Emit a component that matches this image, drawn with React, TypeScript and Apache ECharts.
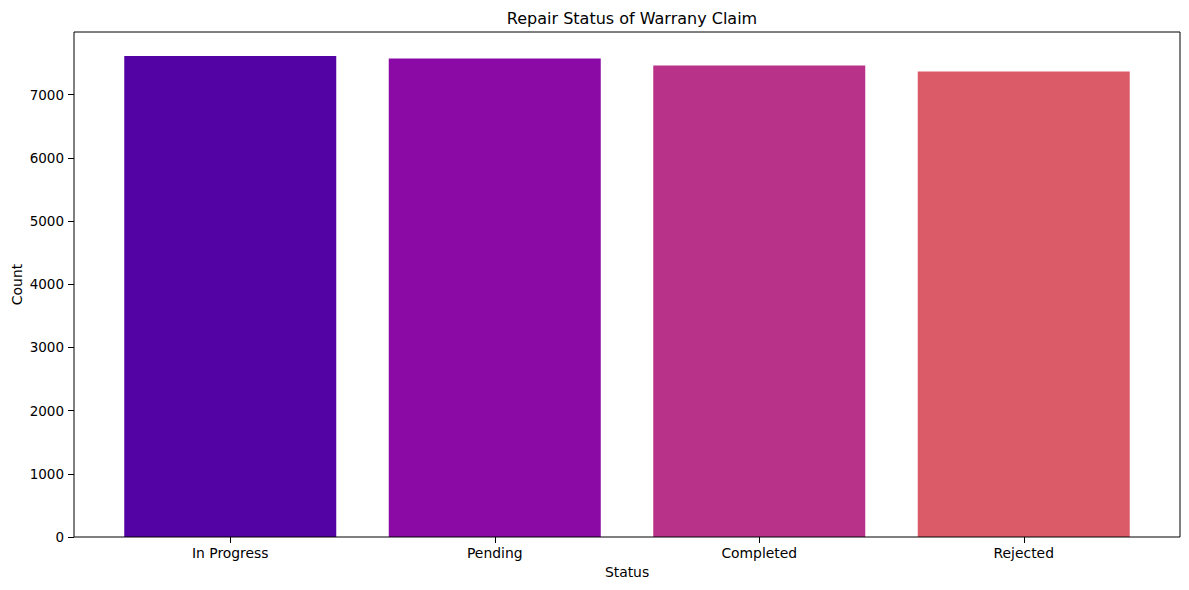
import React, { useEffect, useRef } from 'react';
import * as echarts from 'echarts';

const statuses = ['In Progress', 'Pending', 'Completed', 'Rejected'];
const counts = [7612, 7575, 7464, 7369];
const barColors = ['#5302a3', '#8b0aa5', '#b83289', '#db5c68'];

const FONT = 'DejaVu Sans';

const App: React.FC = () => {
  const chartRef = useRef<HTMLDivElement>(null);

  useEffect(() => {
    if (!chartRef.current) return;
    const chart = echarts.init(chartRef.current, undefined, { renderer: 'svg' });

    // plot frame, bars centred like matplotlib (0.09 unit pad each side)
    const frameLeft = 74;
    const frameRight = 1180;
    const frameTop = 32;
    const frameBottom = 537;
    const pad = 24;

    const option = {
      animation: false,
      textStyle: { fontFamily: FONT },
      title: {
        text: 'Repair Status of Warrany Claim',
        left: (frameLeft + frameRight) / 2,
        textAlign: 'center',
        top: 5,
        textStyle: { fontFamily: FONT, fontSize: 16, fontWeight: 'normal', color: '#000' },
      },
      grid: {
        left: frameLeft + pad,
        right: 1189 - frameRight + pad,
        top: frameTop,
        bottom: 590 - frameBottom,
        containLabel: false,
        outerBoundsMode: 'none',
      },
      xAxis: {
        type: 'category',
        data: statuses,
        name: 'Status',
        nameLocation: 'middle',
        nameGap: 28,
        nameMoveOverlap: false,
        nameTextStyle: { fontFamily: FONT, fontSize: 13.9, color: '#000' },
        axisLine: { show: false },
        axisTick: { show: true, alignWithLabel: true, length: 6, lineStyle: { color: '#000' } },
        axisLabel: { fontFamily: FONT, fontSize: 13.9, color: '#000', margin: 9 },
      },
      yAxis: {
        type: 'value',
        min: 0,
        max: (v: { max: number }) => v.max * 1.05,
        interval: 1000,
        offset: pad,
        name: 'Count',
        nameLocation: 'middle',
        nameGap: 50,
        nameMoveOverlap: false,
        nameTextStyle: { fontFamily: FONT, fontSize: 13.9, color: '#000' },
        axisLine: { show: false },
        axisTick: { show: true, length: 6, lineStyle: { color: '#000' } },
        axisLabel: {
          fontFamily: FONT,
          fontSize: 13.5,
          color: '#000',
          margin: 10,
          showMaxLabel: false,
          formatter: (v: number) => String(v),
        },
        splitLine: { show: false },
      },
      series: [
        {
          type: 'bar',
          barWidth: 212,
          data: counts.map((v, i) => ({ value: v, itemStyle: { color: barColors[i] } })),
        },
      ],
      graphic: [
        {
          type: 'rect',
          shape: {
            x: frameLeft,
            y: frameTop,
            width: frameRight - frameLeft,
            height: frameBottom - frameTop,
          },
          style: { fill: 'none', stroke: '#000', lineWidth: 1 },
          z: 10,
        },
      ],
    };

    chart.setOption(option);
    return () => chart.dispose();
  }, []);

  return (
    <div
      ref={chartRef}
      style={{ position: 'absolute', left: 0, top: 0, width: 1189, height: 590, background: '#fff' }}
    />
  );
};

export default App;
